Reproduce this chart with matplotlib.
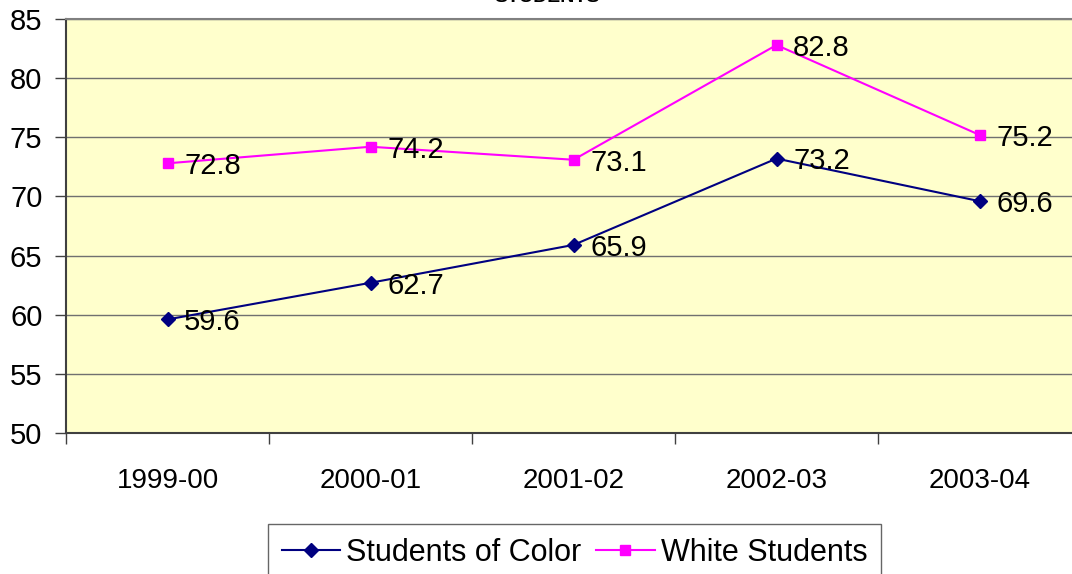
import matplotlib.pyplot as plt

plt.rcParams['font.family'] = ['Liberation Sans', 'DejaVu Sans']

years = ['1999-00', '2000-01', '2001-02', '2002-03', '2003-04']
students_of_color = [59.6, 62.7, 65.9, 73.2, 69.6]
white_students = [72.8, 74.2, 73.1, 82.8, 75.2]

fig = plt.figure(figsize=(10.72, 5.74), dpi=100)
W, H = 1072, 574
left, right, top, bottom = 66, 1081, 19, 433
ax = fig.add_axes([left / W, 1 - bottom / H, (right - left) / W, (bottom - top) / H])
ax.set_facecolor('#FFFFCC')

x = [i + 0.5 for i in range(len(years))]
ax.plot(x, students_of_color, color='#000080', linewidth=1.5, marker='D',
        markersize=7.5, label='Students of Color', zorder=3)
ax.plot(x, white_students, color='#FF00FF', linewidth=1.5, marker='s',
        markersize=7.5, label='White Students', zorder=3)

for xi, v in zip(x, students_of_color):
    ax.annotate(f'{v}', (xi, v), xytext=(12, -2), textcoords='offset points',
                ha='left', va='center', fontsize=21)
for xi, v in zip(x, white_students):
    ax.annotate(f'{v}', (xi, v), xytext=(12, -2), textcoords='offset points',
                ha='left', va='center', fontsize=21)

ax.set_xlim(0, len(years))
ax.set_ylim(50, 85)
ax.set_yticks(range(50, 86, 5))
ax.yaxis.grid(True, color='#707070', linewidth=1.0)
ax.set_axisbelow(True)

# category ticks sit between the groups, labels at the centres
ax.set_xticks(range(len(years) + 1))
ax.set_xticklabels([])
ax.set_xticks(x, minor=True)
ax.set_xticklabels(years, minor=True, fontsize=20)
ax.tick_params(axis='x', which='minor', length=0, pad=25)
ax.tick_params(axis='x', which='major', length=8, width=1, color='#404040')
ax.tick_params(axis='y', length=8, width=1, color='#404040', labelsize=21, pad=9)

for side in ['left', 'bottom']:
    ax.spines[side].set_color('#404040')
    ax.spines[side].set_linewidth(1.5)
ax.spines['top'].set_color('#808080')
ax.spines['top'].set_linewidth(1.5)
ax.spines['right'].set_visible(False)

fig.text(0.51, 1 - 2 / H, 'STUDENTS', ha='center', va='baseline',
         fontsize=14, fontweight='bold')

leg = fig.legend(loc='upper left', bbox_to_anchor=(268 / W, 1 - 524 / H),
                 ncol=2, fontsize=22, frameon=True, fancybox=False,
                 edgecolor='#404040', handlelength=1.9, columnspacing=0.5,
                 handletextpad=0.2, borderpad=0.45, borderaxespad=0)
leg.get_frame().set_linewidth(1.0)

fig.savefig('out.png', dpi=100)
